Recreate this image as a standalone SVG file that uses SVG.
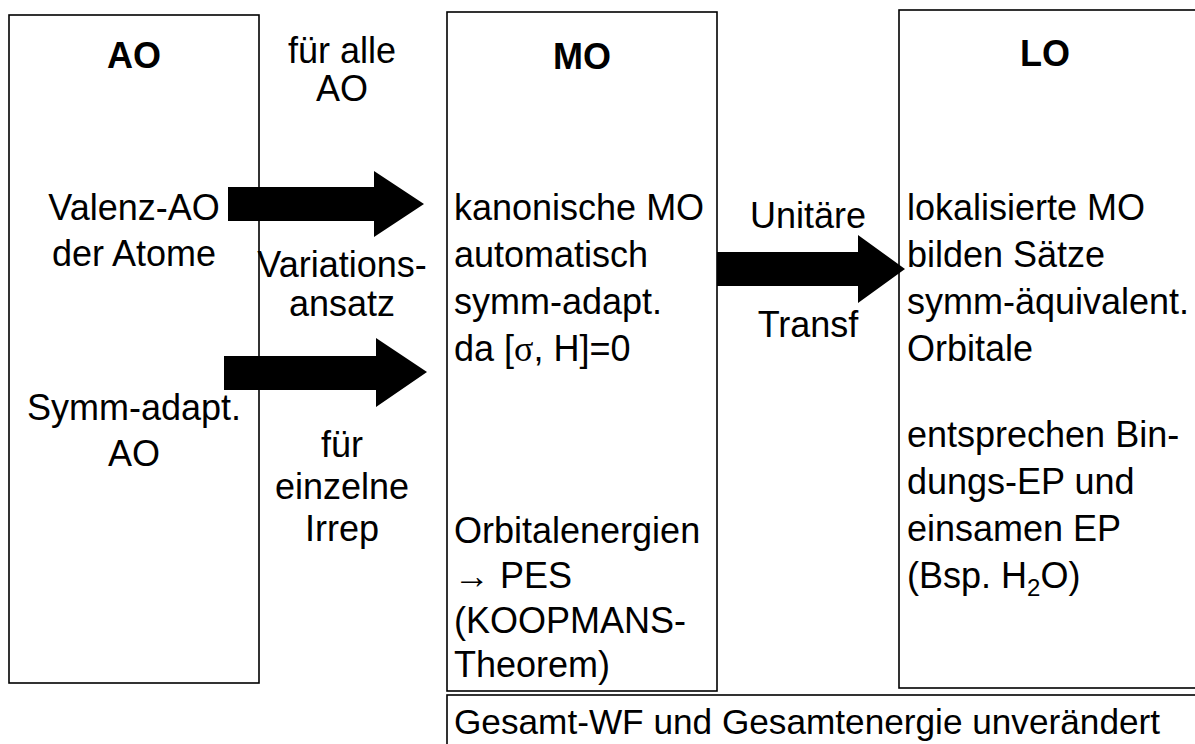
<svg xmlns="http://www.w3.org/2000/svg" width="1195" height="744" viewBox="0 0 1195 744">
<style>
.box{fill:#fff;stroke:#000;stroke-width:1.6}
text{font-family:"Liberation Sans",Arial,Helvetica,sans-serif;font-size:36px;fill:#000}
.t{font-weight:bold}
.c{text-anchor:middle}
.sym{font-family:"Liberation Serif","DejaVu Serif",serif}
.arr{fill:#000}
</style>
<rect width="1195" height="744" fill="#fff"/>
<g id="node-AO">
<rect class="box" x="9" y="15" width="250" height="668"/>
<text class="t c" x="134" y="68">AO</text>
<text class="c" x="134" y="220">Valenz-AO</text>
<text class="c" x="134" y="266">der Atome</text>
<text class="c" x="134" y="420">Symm-adapt.</text>
<text class="c" x="134" y="466">AO</text>
</g>
<g id="node-MO">
<rect class="box" x="447" y="12" width="270" height="679"/>
<text class="t c" x="582" y="69">MO</text>
<text x="454" y="220">kanonische MO</text>
<text x="454" y="267">automatisch</text>
<text x="454" y="314">symm-adapt.</text>
<text x="454" y="361">da [<tspan class="sym">σ</tspan>, H]=0</text>
<text x="454" y="543">Orbitalenergien</text>
<text x="454" y="588"><tspan class="sym">→</tspan> PES</text>
<text x="454" y="633">(KOOPMANS-</text>
<text x="454" y="677">Theorem)</text>
</g>
<g id="node-LO">
<rect class="box" x="899" y="10" width="320" height="678"/>
<text class="t c" x="1045" y="66">LO</text>
<text x="907" y="220">lokalisierte MO</text>
<text x="907" y="267">bilden Sätze</text>
<text x="907" y="314">symm-äquivalent.</text>
<text x="907" y="361">Orbitale</text>
<text x="907" y="447">entsprechen Bin-</text>
<text x="907" y="494">dungs-EP und</text>
<text x="907" y="541">einsamen EP</text>
<text x="907" y="588">(Bsp. H<tspan font-size="24" dy="8">2</tspan><tspan dy="-8">O)</tspan></text>
</g>
<g id="node-total">
<rect class="box" x="447" y="695" width="760" height="60"/>
<text x="454" y="734" style="font-size:35.2px">Gesamt-WF und Gesamtenergie unverändert</text>
</g>
<g id="connectors">
<polygon class="arr" points="228,187 374,187 374,171 424,204 374,237 374,221 228,221"/>
<polygon class="arr" points="224,356 376,356 376,338 427,372 376,407 376,390 224,390"/>
<polygon class="arr" points="717,252 858,252 858,235 905,269 858,303 858,286 717,286"/>
<text class="c" x="342" y="63">für alle</text>
<text class="c" x="342" y="101">AO</text>
<text class="c" x="342" y="277">Variations-</text>
<text class="c" x="342" y="316">ansatz</text>
<text class="c" x="342" y="457">für</text>
<text class="c" x="342" y="499">einzelne</text>
<text class="c" x="342" y="541">Irrep</text>
<text class="c" x="808" y="228">Unitäre</text>
<text class="c" x="808" y="337">Transf</text>
</g>
</svg>
